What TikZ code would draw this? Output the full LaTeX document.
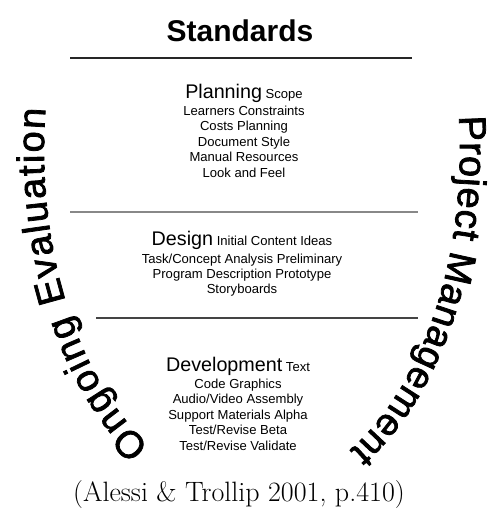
\documentclass[tikz,border=0pt]{standalone}
\usepackage{fontspec}
\setsansfont{Liberation Sans}
\newfontfamily\arcface{Liberation Sans}[FakeBold=2]
\usepackage{tikz}
\usetikzlibrary{decorations.text}
\definecolor{rulegray}{RGB}{136,136,136}
\definecolor{darkrule}{RGB}{68,68,68}
\newcommand{\stagename}[1]{{\fontsize{14.8}{15}\selectfont #1}}
\newcommand{\arcfont}{\arcface\fontsize{28.5}{29}\selectfont}
\tikzset{
    title/.style={font=\sffamily\bfseries\fontsize{22.5}{24}\selectfont, inner sep=0pt, anchor=base},
    stage/.style={font=\sffamily\fontsize{9.8}{11.6}\selectfont, align=center, inner sep=0pt, anchor=north},
    cite/.style={font=\rmfamily\fontsize{21}{23}\selectfont, inner sep=0pt, anchor=base},
    rule/.style={line width=0.8pt},
    arctext/.style={decorate, decoration={text along path, text={|\arcfont|#1}, text align=fit to path}}
}

\begin{document}
\begin{tikzpicture}[x=0.75pt, y=0.75pt]
    \useasboundingbox (0,0) rectangle (489,510);
    \coordinate (ctr) at (252,360);

    \node[title] (std) at (240,468) {Standards};
    \draw[rule, black!85] (70,452) -- (412,452);

    \node[stage] (plan) at (244,426.5) {\stagename{Planning} Scope\\[1.5pt]
        Learners Constraints\\ Costs Planning\\ Document Style\\
        Manual Resources\\ Look and Feel};
    \draw[rule, rulegray, line width=1.2pt] (70,298) -- (418,298);

    \node[stage] (dsgn) at (242,279) {\stagename{Design} Initial Content Ideas\\[1.5pt]
        Task/Concept Analysis Preliminary\\ Program Description Prototype\\
        Storyboards};
    \draw[rule, darkrule, line width=1pt] (96,192) -- (418,192);

    \node[stage] (dev) at (238,153) {\stagename{Development} Text\\[1pt]
        Code Graphics\\ Audio/Video Assembly\\ Support Materials Alpha\\
        Test/Revise Beta\\ Test/Revise Validate};

    % words bent round the two sides (elliptic arcs, run clockwise)
    \path[arctext={Ongoing Evaluation}]
        ([shift={(240.5:208 and 340)}]ctr)
        arc[start angle=240.5, end angle=173, x radius=208, y radius=340];
    \path[arctext={Project Management}]
        ([shift={(5.7:208 and 340)}]ctr)
        arc[start angle=5.7, end angle=-62, x radius=208, y radius=340];

    \node[cite] (src) at (239,8.3) {(Alessi \& Trollip 2001, p.410)};
\end{tikzpicture}
\end{document}
